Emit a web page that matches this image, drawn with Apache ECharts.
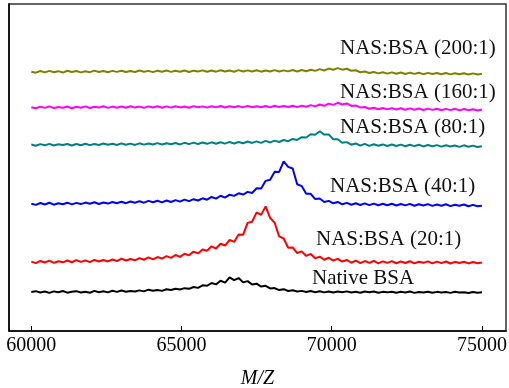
<!DOCTYPE html>
<html>
<head>
<meta charset="utf-8">
<script src="https://cdn.jsdelivr.net/npm/echarts@6/dist/echarts.min.js"></script>
<style>html,body{margin:0;padding:0;background:#fff}#c{width:509px;height:388px}</style>
</head>
<body>
<div id="c"></div>
<script>
// m/z sampling: 60000 .. 75000, step 150 (101 points)
const mzStart = 60000, mzStep = 150;
const tickValues = [60000, 65000, 70000, 75000];
const seriesNames = ['Native BSA', 'NAS:BSA (20:1)', 'NAS:BSA (40:1)', 'NAS:BSA (80:1)', 'NAS:BSA (160:1)', 'NAS:BSA (200:1)'];
const seriesColors = ['#000000', '#ff0000', '#0000ff', '#008080', '#ff00ff', '#808000'];
// vertical stacking offset of each trace (arbitrary intensity units)
const offsets = [39, 69, 127, 186, 223.4, 259];

const nativeBSA = [
 0, 0.8, -0.6, 0.4, -0.9, 0.6, -0.3, 0.9, -0.7, 0.2,
 0.8, -0.5, 0.3, -0.8, 1.1, -0.2, 0.7, -0.4, 1.2, 0.1,
 1.4, 0.3, 1.0, 0.4, 1.6, 0.6, 2.3, 1.2, 2.0, 1.1,
 2.7, 1.9, 3.2, 2.4, 3.8, 3.1, 5.0, 4.1, 6.6, 6.2,
 8.9, 7.6, 11.2, 9.4, 14.6, 11.8, 13.9, 9.6, 10.8, 7.4,
 8.3, 5.4, 6.1, 3.5, 3.9, 1.9, 2.8, 1.0, 1.7, 0.4,
 1.1, 0, 0.9, -0.3, 0.7, -0.4, 0.5, -0.6, 0.4, -0.2,
 0.6, -0.5, 0.2, -0.7, 0.4, -0.3, 0.5, -0.8, 0.1, -0.4,
 0.3, -0.7, 0.2, -0.5, 0.4, -0.9, 0, -0.6, 0.3, -0.8,
 0.1, -0.5, -0.1, -0.9, 0.2, -0.6, -0.2, -1.0, 0, -0.7,
 -0.3];
const nas20 = [
 0.3, -1.2, 1.0, -0.6, 1.3, -1.0, 0.7, -0.4, 1.4, -0.3,
 1.8, 0.1, 1.5, -0.2, 2.0, 0.4, 1.9, 0.5, 2.4, 0.9,
 3.3, 1.4, 3.0, 1.6, 3.8, 2.2, 4.5, 2.6, 4.9, 3.3,
 5.8, 4.0, 6.9, 5.0, 8.2, 6.6, 10.3, 8.5, 12.4, 11.1,
 15.6, 13.4, 18.2, 16.4, 22.1, 20.0, 27.4, 27.1, 39.0, 40.2,
 49.5, 47.0, 55.5, 44.0, 39.2, 25.5, 23.4, 14.2, 14.5, 8.9,
 10.6, 6.0, 8.0, 3.6, 5.3, 2.2, 4.2, 1.4, 3.1, 0.4,
 2.0, -0.8, 1.3, -1.2, 0.9, -1.0, 1.1, -1.4, 0.6, -0.9,
 0.8, -1.3, 0.5, -1.1, 0.7, -1.5, 0.2, -0.9, 0.6, -1.4,
 0.3, -1.2, 0.4, -1.6, 0.1, -1.0, 0.2, -1.5, -0.1, -1.3,
 -0.6];
const nas40 = [
 0.2, -1.0, 0.9, -0.6, 1.1, -0.8, 0.7, -0.3, 1.2, -0.5,
 1.0, -0.2, 1.3, 0.1, 1.6, -0.1, 1.4, 0.3, 1.9, 0.6,
 2.2, 0.7, 2.4, 1.1, 2.7, 1.2, 3.0, 1.6, 3.1, 1.5,
 3.4, 1.9, 3.8, 2.2, 4.3, 2.8, 4.7, 3.4, 5.6, 4.2,
 6.9, 5.2, 8.1, 6.3, 9.2, 8.0, 10.6, 9.3, 12.0, 10.9,
 15.6, 15.4, 23.0, 24.1, 32.2, 31.9, 42.5, 37.0, 35.4, 19.6,
 17.8, 10.2, 10.1, 4.8, 5.4, 1.9, 3.0, 0.6, 1.9, -0.4,
 1.0, -0.9, 0.6, -1.1, 0.5, -1.2, 0.3, -1.4, 0.2, -1.3,
 0.1, -1.6, -0.1, -1.5, 0, -1.9, -0.3, -1.6, -0.2, -2.0,
 -0.6, -1.9, -0.4, -2.2, -0.8, -1.9, -0.6, -2.4, -1.0, -2.3,
 -1.8];
const nas80 = [
 0.3, -0.9, 0.7, -0.5, 1.0, -0.7, 0.5, -0.2, 0.9, -0.6,
 0.8, -0.4, 1.1, -0.3, 0.9, -0.1, 1.3, 0, 1.0, -0.2,
 1.4, 0.1, 1.2, -0.1, 1.5, 0.2, 1.3, 0.3, 1.7, 0.4,
 1.6, 0.5, 1.9, 0.4, 2.0, 0.7, 2.2, 0.9, 2.3, 1.0,
 2.5, 1.1, 2.6, 1.2, 2.9, 1.4, 2.8, 1.6, 3.3, 1.9,
 3.5, 2.0, 3.9, 2.4, 4.2, 2.8, 4.8, 3.6, 5.9, 4.9,
 7.6, 7.3, 10.6, 10.0, 13.5, 10.2, 10.4, 5.6, 5.6, 2.1,
 2.7, 0.1, 1.4, -0.8, 0.9, -1.0, 0.6, -0.9, 0.4, -1.2,
 0.3, -1.1, 0.2, -1.4, 0, -1.3, 0.1, -1.6, -0.2, -1.5,
 -0.3, -1.8, -0.4, -1.6, -0.6, -2.0, -0.5, -1.9, -0.8, -2.1,
 -1.4];
const nas160 = [
 0.2, -0.9, 0.8, -0.5, 1.0, -0.7, 0.4, -0.3, 0.9, -0.8,
 0.6, -0.4, 1.0, -0.6, 0.7, -0.2, 1.1, -0.5, 0.8, -0.3,
 0.9, -0.4, 1.2, -0.2, 0.8, -0.5, 1.0, -0.1, 1.1, -0.3,
 1.0, -0.2, 1.2, 0, 0.9, -0.3, 1.3, 0.1, 1.0, -0.2,
 1.2, 0, 1.4, -0.1, 1.1, 0.2, 1.3, 0, 1.5, 0.1,
 1.2, 0.2, 1.4, 0, 1.6, 0.3, 1.3, 0.4, 1.7, 0.3,
 1.8, 0.6, 2.3, 1.0, 2.9, 1.6, 3.8, 2.5, 4.6, 2.9,
 3.9, 1.4, 2.0, -0.2, 0.4, -1.3, -0.4, -1.9, -0.6, -2.0,
 -0.7, -2.1, -0.9, -2.3, -1.0, -2.4, -1.1, -2.6, -1.2, -2.5,
 -1.3, -2.8, -1.5, -2.7, -1.4, -3.0, -1.6, -2.9, -1.8, -3.1,
 -2.2];
const nas200 = [
 0.1, -0.9, 0.7, -0.6, 0.9, -0.5, 0.6, -0.8, 1.0, -0.3,
 0.8, -0.6, 0.5, -0.4, 1.1, -0.2, 0.7, -0.5, 0.9, -0.1,
 1.0, -0.3, 0.8, -0.2, 1.2, 0, 0.9, -0.4, 1.1, 0,
 1.2, -0.1, 1.0, 0.1, 1.3, -0.2, 1.1, 0.2, 1.4, 0,
 1.3, 0.1, 1.5, 0.2, 1.2, 0, 1.6, 0.3, 1.4, 0.2,
 1.5, 0.1, 1.3, 0.3, 1.6, 0.2, 1.4, 0.4, 1.7, 0.3,
 1.8, 0.5, 2.0, 0.9, 2.6, 1.3, 3.2, 2.0, 3.6, 2.1,
 3.0, 1.0, 1.5, -0.5, 0.3, -1.2, -0.2, -1.6, -0.5, -1.9,
 -0.6, -2.0, -0.8, -2.2, -0.9, -2.1, -1.0, -2.4, -1.1, -2.3,
 -1.2, -2.5, -1.3, -2.6, -1.4, -2.5, -1.5, -2.8, -1.6, -2.7,
 -2.0];

const allValues = [nativeBSA, nas20, nas40, nas80, nas160, nas200];

// label placement (layout, not data)
const labelPos = [[312, 279], [316, 239.5], [330, 187], [340, 127.5], [340, 92.5], [340, 48.5]];

const FONT = '"Liberation Serif", "Times New Roman", serif';

const chart = echarts.init(document.getElementById('c'), null, {renderer: 'canvas'});
const series = allValues.map((vals, k) => ({
  name: seriesNames[k],
  type: 'line',
  showSymbol: false,
  symbol: 'none',
  animation: false,
  silent: true,
  lineStyle: {color: seriesColors[k], width: 2},
  data: vals.map((v, i) => [mzStart + i * mzStep, v + offsets[k]])
}));

chart.setOption({
  animation: false,
  backgroundColor: '#fff',
  grid: {left: 9, right: 3, top: 4, bottom: 57, show: true, borderColor: '#333', borderWidth: 1.5, outerBoundsMode: 'none'},
  xAxis: {
    type: 'value', min: 59258, max: 75800,
    axisLine: {show: true, onZero: false, lineStyle: {color: '#000', width: 1.5}},
    axisTick: {show: true, inside: true, length: 5, customValues: tickValues, lineStyle: {color: '#000', width: 1}},
    axisLabel: {show: true, customValues: tickValues, color: '#000', fontFamily: FONT, fontSize: 20, margin: 5,
      formatter: v => String(v)},
    splitLine: {show: false},
    name: 'M/Z', nameLocation: 'middle', nameGap: 38,
    nameTextStyle: {fontFamily: FONT, fontSize: 20, fontStyle: 'italic', color: '#000'}
  },
  yAxis: {
    type: 'value', min: 0, max: 326.7,
    axisLine: {show: true, lineStyle: {color: '#000', width: 1.5}},
    axisTick: {show: false}, axisLabel: {show: false}, splitLine: {show: false}
  },
  series: series,
  graphic: seriesNames.map((n, k) => ({
    type: 'text', left: labelPos[k][0], top: labelPos[k][1] - 11,
    style: {text: n, fontFamily: FONT, fontSize: 21, fill: '#111'}
  }))
});
</script>
</body>
</html>
